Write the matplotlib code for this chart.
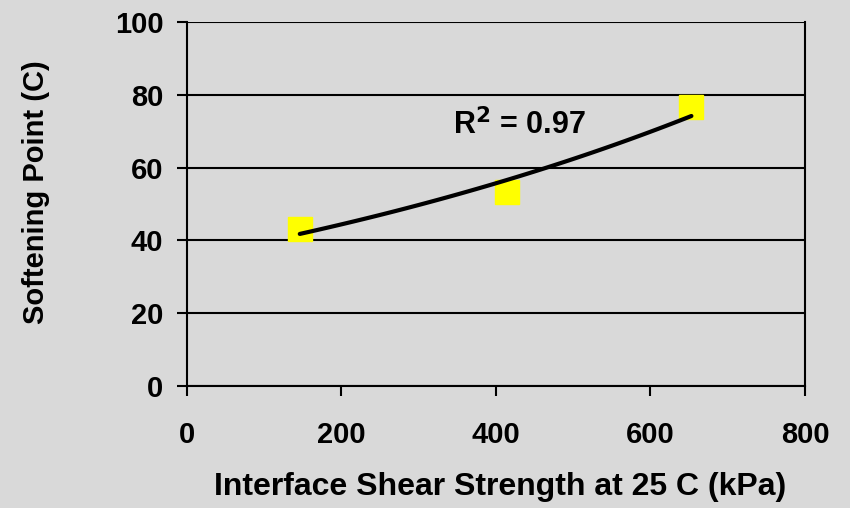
import numpy as np
import matplotlib
matplotlib.use("Agg")
import matplotlib.pyplot as plt

# measured points
shear_kpa = [146, 414, 653]
softening_c = [43.0, 53.2, 76.6]

plt.rcParams["font.family"] = ["Liberation Sans", "DejaVu Sans"]
plt.rcParams["font.weight"] = "bold"

bg = "#D9D9D9"
fig = plt.figure(figsize=(8.5, 5.08), dpi=100, facecolor=bg)
ax = fig.add_axes([0.22, 0.24, 0.727, 0.717], facecolor=bg)

# exponential trendline (as in Excel) fitted to the points
b, lna = np.polyfit(shear_kpa, np.log(softening_c), 1)
xfit = np.linspace(min(shear_kpa), max(shear_kpa), 100)
yfit = np.exp(lna + b * xfit)

ax.plot(shear_kpa, softening_c, linestyle="none", marker="s", markersize=17.5,
        color="#FFFF00", zorder=3)
ax.plot(xfit, yfit, color="black", linewidth=3, solid_capstyle="round", zorder=4)

ax.text(344, 71.7, "R$^{\\mathbf{2}}$ = 0.97", fontsize=22, fontweight="bold",
        ha="left", va="center")

ax.set_xlim(0, 800)
ax.set_ylim(0, 100)
ax.set_xticks([0, 200, 400, 600, 800])
ax.set_yticks([0, 20, 40, 60, 80, 100])
ax.yaxis.grid(True, color="black", linewidth=1.5)
ax.set_axisbelow(True)
for s in ax.spines.values():
    s.set_linewidth(1.5)
ax.spines["top"].set_visible(False)
ax.tick_params(axis="both", direction="out", length=7, width=1.5, labelsize=21)
ax.tick_params(axis="y", pad=10)
ax.tick_params(axis="x", pad=18)

ax.set_xlabel("Interface Shear Strength at 25 C (kPa)", fontsize=23, fontweight="bold")
ax.set_ylabel("Softening Point (C)", fontsize=21, fontweight="bold")
ax.xaxis.set_label_coords(0.507, -0.277)
ax.xaxis.label.set_va("center")
ax.yaxis.set_label_coords(-0.244, 0.532)
ax.yaxis.label.set_va("center")

fig.savefig("out.png", dpi=100, facecolor=bg)
